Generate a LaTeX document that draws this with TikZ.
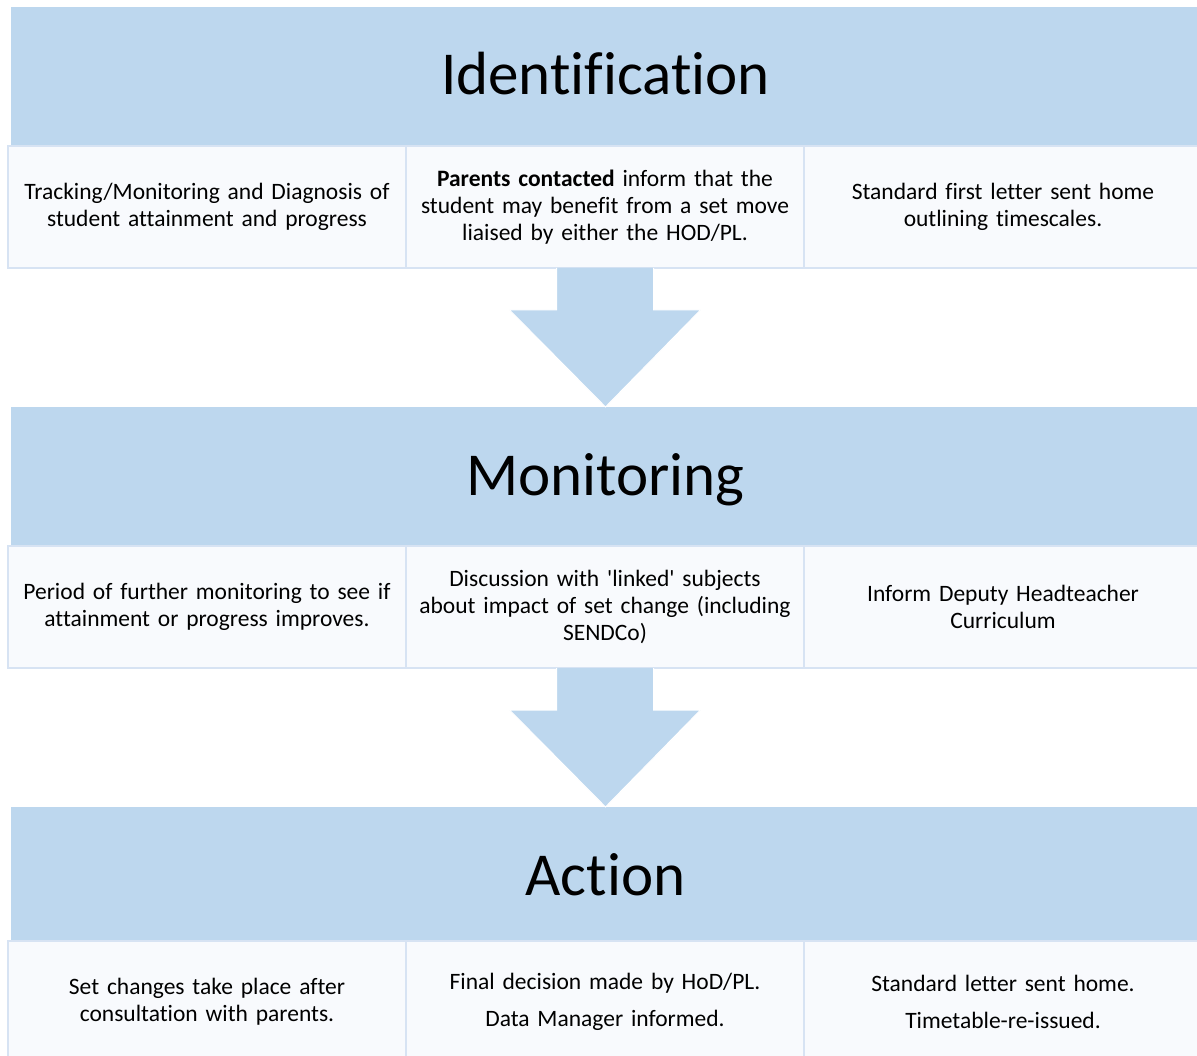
\documentclass[tikz,border=0pt]{standalone}
\usepackage{fontspec}
\setmainfont{Carlito}[Ligatures=NoCommon]
\usetikzlibrary{positioning,calc}

\begin{document}
\begin{tikzpicture}[x=1pt,y=-1pt]
    \definecolor{colhead}{HTML}{BDD7EE}
    \definecolor{colcell}{HTML}{F8FAFD}
    \definecolor{colline}{HTML}{D7E3F3}
    \tikzstyle{stage}=[fill=colhead,anchor=north west,inner sep=0pt,outer sep=0pt,
                       text height=44pt,text depth=7pt,
                       minimum width=1189pt,minimum height=139pt,font=\fontsize{61}{72}\selectfont]
    \tikzstyle{cell}=[fill=colcell,draw=colline,line width=2pt,inner sep=0pt,outer sep=0pt,
                      minimum width=398pt,minimum height=122pt,text width=396pt,align=center,
                      font=\fontsize{23.5}{27}\selectfont]
    \tikzstyle{blockarrow}=[fill=colhead,draw=white,line width=1pt]
    \useasboundingbox (0,0) rectangle (1197,1056);
    \clip (0,0) rectangle (1197,1056);
    % identification
    \node[stage] (hdr1) at (11,7) {Identification};
    \node[cell,anchor=north west] (c11) at (8,146)
        {Tracking/Monitoring and Diagnosis of\\student attainment and progress};
    \node[cell,right=0pt of c11] (c12)
        {\textbf{Parents contacted} inform that the\\student may benefit from a set move\\liaised by either the HOD/PL.};
    \node[cell,right=0pt of c12] (c13)
        {Standard first letter sent home\\outlining timescales.};
    % monitoring
    \node[stage] (hdr2) at (11,407) {Monitoring};
    \node[cell,anchor=north west] (c21) at (8,546)
        {Period of further monitoring to see if\\attainment or progress improves.};
    \node[cell,right=0pt of c21] (c22)
        {Discussion with \textquotesingle linked\textquotesingle{} subjects\\about impact of set change (including\\SENDCo)};
    \node[cell,right=0pt of c22] (c23)
        {Inform Deputy Headteacher\\Curriculum};
    % action
    \node[stage] (hdr3) at (11,807) {Action};
    \node[cell,anchor=north west] (c31) at (8,941)
        {Set changes take place after\\consultation with parents.};
    \node[cell,right=0pt of c31] (c32)
        {Final decision made by HoD/PL.\\[10pt]Data Manager informed.};
    \node[cell,right=0pt of c32] (c33)
        {Standard letter sent home.\\[10pt]Timetable-re-issued.};
    % arrows
    \filldraw[blockarrow] ($(c12.south)+(-48.5,0)$) -- ($(c12.south)+(-48.5,42)$)
        -- ($(c12.south)+(-95.5,42)$) -- (hdr2.north) -- ($(c12.south)+(95.5,42)$)
        -- ($(c12.south)+(48.5,42)$) -- ($(c12.south)+(48.5,0)$);
    \filldraw[blockarrow] ($(c22.south)+(-48.5,0)$) -- ($(c22.south)+(-48.5,42)$)
        -- ($(c22.south)+(-95.5,42)$) -- (hdr3.north) -- ($(c22.south)+(95.5,42)$)
        -- ($(c22.south)+(48.5,42)$) -- ($(c22.south)+(48.5,0)$);
\end{tikzpicture}
\end{document}
